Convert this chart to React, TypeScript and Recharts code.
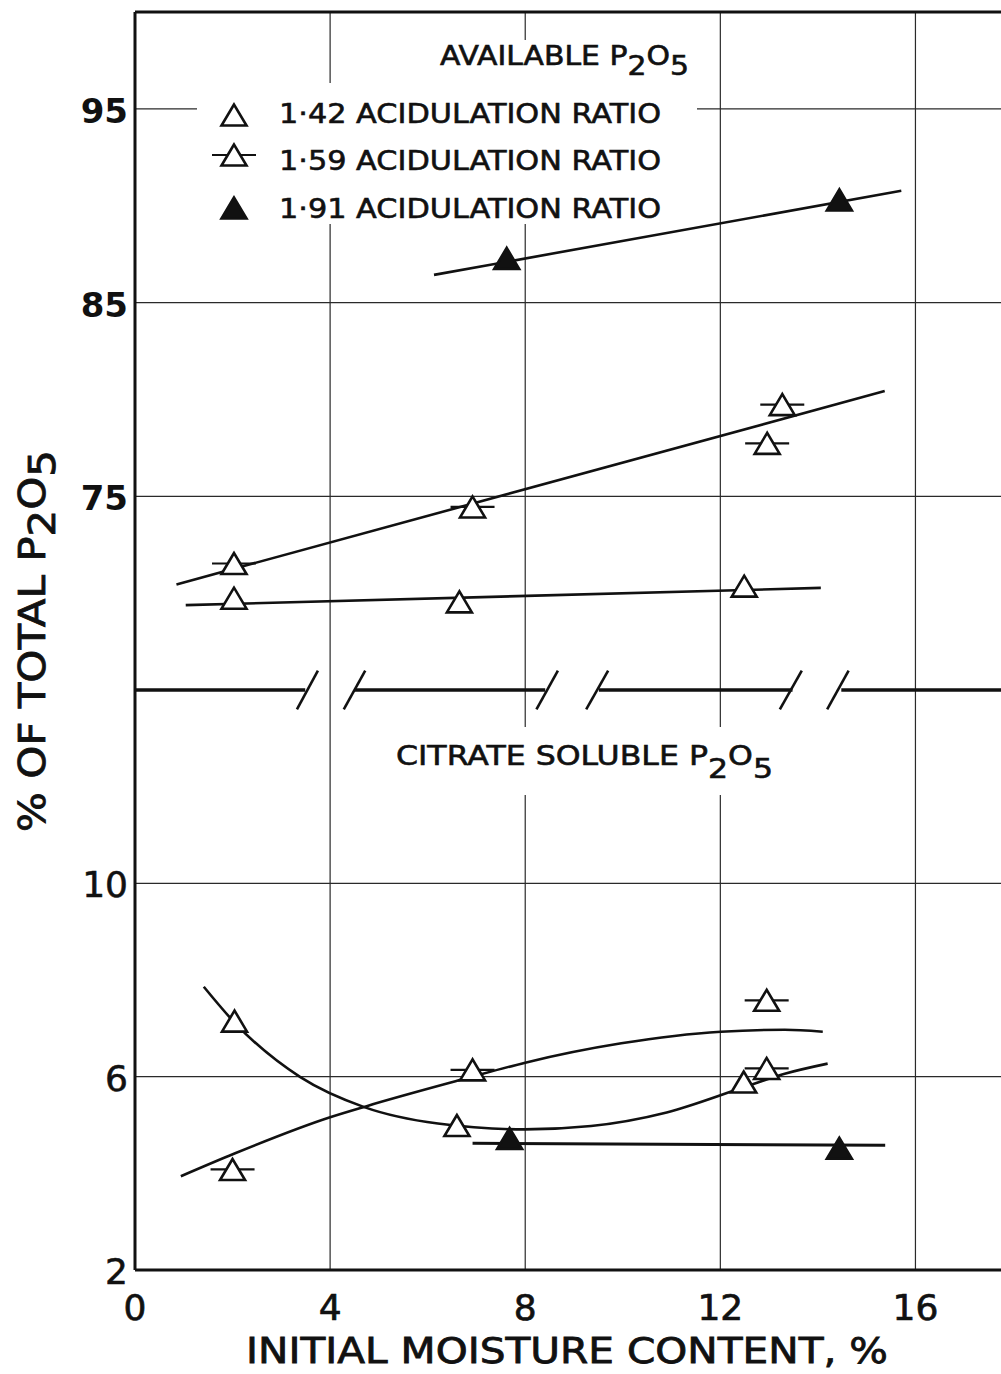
import {
  CartesianGrid,
  ComposedChart,
  Line,
  ReferenceLine,
  Scatter,
  XAxis,
  YAxis,
} from "recharts";

const FONT = "'DejaVu Sans', sans-serif";
const INK = "#111111";
const GRID = "#2a2a2a";

const moistureTicks = [0, 4, 8, 12, 16];
const availableTicks = [75, 85, 95];
const citrateTicks = [2, 6, 10];

// available P2O5 - measured points
const available142 = [
  { x: 2.03, y: 69.74 },
  { x: 6.65, y: 69.55 },
  { x: 12.49, y: 70.36 },
];
const available159 = [
  { x: 2.03, y: 71.53 },
  { x: 6.92, y: 74.45 },
  { x: 12.96, y: 77.73 },
  { x: 13.27, y: 79.73 },
];
const available191 = [
  { x: 7.62, y: 87.28 },
  { x: 14.44, y: 90.3 },
];

// available P2O5 - fitted lines as drawn
const available142Fit = [
  { x: 1.04, y: 69.38 },
  { x: 14.06, y: 70.27 },
];
const available159Fit = [
  { x: 0.85, y: 70.45 },
  { x: 15.37, y: 80.43 },
];
const available191Fit = [
  { x: 6.13, y: 86.43 },
  { x: 15.71, y: 90.77 },
];

// citrate soluble P2O5 - measured points
const citrate142 = [
  { x: 2.04, y: 7.15 },
  { x: 6.6, y: 4.99 },
  { x: 12.48, y: 5.89 },
];
const citrate159 = [
  { x: 2.0, y: 4.08 },
  { x: 6.92, y: 6.14 },
  { x: 12.95, y: 7.58 },
  { x: 12.95, y: 6.17 },
];
const citrate191 = [
  { x: 7.68, y: 4.72 },
  { x: 14.44, y: 4.52 },
];

// citrate soluble P2O5 - hand drawn curves
const citrate142Fit = [
  { x: 1.41, y: 7.86 },
  { x: 2.04, y: 7.12 },
  { x: 3.39, y: 5.99 },
  { x: 4.7, y: 5.37 },
  { x: 6.21, y: 5.03 },
  { x: 7.99, y: 4.91 },
  { x: 9.35, y: 4.98 },
  { x: 10.9, y: 5.26 },
  { x: 12.48, y: 5.78 },
  { x: 13.32, y: 6.06 },
  { x: 14.2, y: 6.27 },
];
const citrate159Fit = [
  { x: 0.94, y: 3.94 },
  { x: 2.04, y: 4.41 },
  { x: 4.0, y: 5.16 },
  { x: 4.75, y: 5.39 },
  { x: 6.74, y: 5.95 },
  { x: 8.0, y: 6.29 },
  { x: 9.97, y: 6.69 },
  { x: 12.01, y: 6.93 },
  { x: 13.32, y: 6.97 },
  { x: 14.1, y: 6.93 },
];
const citrate191Fit = [
  { x: 6.92, y: 4.62 },
  { x: 15.38, y: 4.58 },
];

// broken-axis rule between the two panels (moisture units)
const breakRuns = [
  [0, 3.49],
  [4.49, 8.41],
  [9.51, 13.48],
  [14.48, 18],
];
const breakSlashes = [
  [3.32, 3.75],
  [4.28, 4.72],
  [8.23, 8.67],
  [9.25, 9.7],
  [13.22, 13.67],
  [14.19, 14.63],
];

const SIDE = 25;
const TRI_H = 21;

function Triangle({ cx = 0, cy = 0, filled = false, dash = false }: any) {
  const pts = `${cx},${cy - TRI_H / 2} ${cx - SIDE / 2},${cy + TRI_H / 2} ${cx + SIDE / 2},${cy + TRI_H / 2}`;
  return (
    <g>
      {dash && (
        <line x1={cx - 22} x2={cx + 22} y1={cy} y2={cy} stroke={INK} strokeWidth={2.2} />
      )}
      <polygon points={pts} fill={filled ? INK : "#fff"} stroke={INK} strokeWidth={2.6} />
    </g>
  );
}

const openMark = (p: any) => <Triangle cx={p.cx} cy={p.cy} />;
const dashMark = (p: any) => <Triangle cx={p.cx} cy={p.cy} dash />;
const filledMark = (p: any) => <Triangle cx={p.cx} cy={p.cy} filled />;

const UpperTick = ({ x, y, payload }: any) => (
  <text x={x} y={y} dy={14} textAnchor="end" fontSize={34} fontWeight="bold" fontFamily={FONT} fill={INK}>
    {payload.value}
  </text>
);

const LowerTick = ({ x, y, payload }: any) => (
  <text
    x={x}
    y={y}
    dy={14}
    textAnchor="end"
    fontSize={36}
    fontFamily={FONT}
    fill={INK}
    stroke={INK}
    strokeWidth={0.6}
  >
    {payload.value}
  </text>
);

const MoistureTick = ({ x, y, payload }: any) => (
  <text
    x={x}
    y={y}
    dy={50}
    textAnchor="middle"
    fontSize={36}
    fontFamily={FONT}
    fill={INK}
    stroke={INK}
    strokeWidth={0.7}
  >
    {payload.value}
  </text>
);

const lineProps = {
  dataKey: "y",
  type: "linear" as const,
  dot: false,
  stroke: INK,
  strokeWidth: 2.6,
  isAnimationActive: false,
};

function Lettering() {
  const legendRows = [
    { label: "1·42  ACIDULATION RATIO", y: 123, mark: <Triangle cx={234} cy={115} /> },
    { label: "1·59  ACIDULATION RATIO", y: 170, mark: <Triangle cx={234} cy={155} dash /> },
    { label: "1·91  ACIDULATION RATIO", y: 218, mark: <Triangle cx={234} cy={208} filled /> },
  ];
  return (
    <svg
      width={1001}
      height={1374}
      style={{ position: "absolute", left: 0, top: 0, pointerEvents: "none" }}
      fontFamily={FONT}
      fill={INK}
    >
      {/* paste-up patches behind the lettering */}
      <rect x={430} y={40} width={270} height={45} fill="#fff" />
      <rect x={197} y={83} width={500} height={141} fill="#fff" />
      <rect x={390} y={727} width={400} height={68} fill="#fff" />

      <g stroke={INK} strokeWidth={0.6}>
        <text x={440} y={65} fontSize={26} textLength={249} lengthAdjust="spacingAndGlyphs">
          AVAILABLE P<tspan dy={10}>2</tspan>
          <tspan dy={-10}>O</tspan>
          <tspan dy={10}>5</tspan>
        </text>

        {legendRows.map((r) => (
          <g key={r.label}>
            <text x={279} y={r.y} fontSize={27} textLength={382} lengthAdjust="spacingAndGlyphs">
              {r.label}
            </text>
          </g>
        ))}

        <text x={396} y={765} fontSize={27} textLength={377} lengthAdjust="spacingAndGlyphs">
          CITRATE SOLUBLE P<tspan dy={13}>2</tspan>
          <tspan dy={-13}>O</tspan>
          <tspan dy={13}>5</tspan>
        </text>

        <text
          x={45}
          y={641}
          transform="rotate(-90 45 641)"
          textAnchor="middle"
          fontSize={37}
          strokeWidth={0.8}
          textLength={382}
          lengthAdjust="spacingAndGlyphs"
        >
          % OF TOTAL P<tspan dy={10}>2</tspan>
          <tspan dy={-10}>O</tspan>
          <tspan dy={10}>5</tspan>
        </text>

        <text
          x={567}
          y={1363}
          textAnchor="middle"
          fontSize={36}
          strokeWidth={0.8}
          textLength={642}
          lengthAdjust="spacingAndGlyphs"
        >
          INITIAL MOISTURE CONTENT, %
        </text>
      </g>

      {legendRows.map((r) => (
        <g key={`mark-${r.label}`}>{r.mark}</g>
      ))}
    </svg>
  );
}

export default function App() {
  return (
    <div
      style={{
        position: "absolute",
        left: 0,
        top: 0,
        width: 1001,
        height: 1374,
        overflow: "hidden",
        background: "#fff",
      }}
    >
      <div style={{ position: "absolute", left: 0, top: 0 }}>
        <ComposedChart width={1013} height={690} margin={{ top: 12, right: 0, bottom: 0, left: 0 }}>
          <CartesianGrid horizontal={false} stroke={GRID} strokeWidth={1.2} />
          <XAxis type="number" dataKey="x" domain={[0, 18]} ticks={moistureTicks} hide />
          <YAxis
            type="number"
            domain={[65, 100]}
            ticks={availableTicks}
            width={135}
            axisLine={{ stroke: INK, strokeWidth: 3 }}
            tickLine={false}
            tickSize={0}
            tickMargin={7}
            tick={<UpperTick />}
          />
          {availableTicks.map((t) => (
            <ReferenceLine key={`h-${t}`} y={t} stroke={GRID} strokeWidth={1.2} />
          ))}
          <ReferenceLine y={100} stroke={INK} strokeWidth={3} />
          <Line data={available142Fit} {...lineProps} />
          <Line data={available159Fit} {...lineProps} />
          <Line data={available191Fit} {...lineProps} />
          <Scatter data={available142} dataKey="y" shape={openMark} isAnimationActive={false} />
          <Scatter data={available159} dataKey="y" shape={dashMark} isAnimationActive={false} />
          <Scatter data={available191} dataKey="y" shape={filledMark} isAnimationActive={false} />
        </ComposedChart>
      </div>

      <div style={{ position: "absolute", left: 0, top: 650 }}>
        <ComposedChart width={1013} height={724} margin={{ top: 40, right: 0, bottom: 0, left: 0 }}>
          <CartesianGrid horizontal={false} stroke={GRID} strokeWidth={1.2} />
          <XAxis
            type="number"
            dataKey="x"
            domain={[0, 18]}
            ticks={moistureTicks}
            height={104}
            axisLine={{ stroke: INK, strokeWidth: 3 }}
            tickLine={false}
            tickSize={0}
            tickMargin={0}
            tick={<MoistureTick />}
          />
          <YAxis
            type="number"
            domain={[2, 14]}
            ticks={citrateTicks}
            width={135}
            axisLine={{ stroke: INK, strokeWidth: 3 }}
            tickLine={false}
            tickSize={0}
            tickMargin={7}
            tick={<LowerTick />}
          />
          {citrateTicks
            .filter((t) => t > 2)
            .map((t) => (
              <ReferenceLine key={`h-${t}`} y={t} stroke={GRID} strokeWidth={1.2} />
            ))}
          {breakRuns.map(([a, b]) => (
            <ReferenceLine
              key={`run-${a}`}
              segment={[
                { x: a, y: 14 },
                { x: b, y: 14 },
              ]}
              stroke={INK}
              strokeWidth={3.4}
              ifOverflow="visible"
            />
          ))}
          {breakSlashes.map(([lo, hi]) => (
            <ReferenceLine
              key={`slash-${lo}`}
              segment={[
                { x: lo, y: 13.6 },
                { x: hi, y: 14.4 },
              ]}
              stroke={INK}
              strokeWidth={2.6}
              ifOverflow="visible"
            />
          ))}
          <Line data={citrate142Fit} {...lineProps} type="monotone" />
          <Line data={citrate159Fit} {...lineProps} type="monotone" />
          <Line data={citrate191Fit} {...lineProps} strokeWidth={3} />
          <Scatter data={citrate142} dataKey="y" shape={openMark} isAnimationActive={false} />
          <Scatter data={citrate159} dataKey="y" shape={dashMark} isAnimationActive={false} />
          <Scatter data={citrate191} dataKey="y" shape={filledMark} isAnimationActive={false} />
        </ComposedChart>
      </div>

      <Lettering />
    </div>
  );
}
